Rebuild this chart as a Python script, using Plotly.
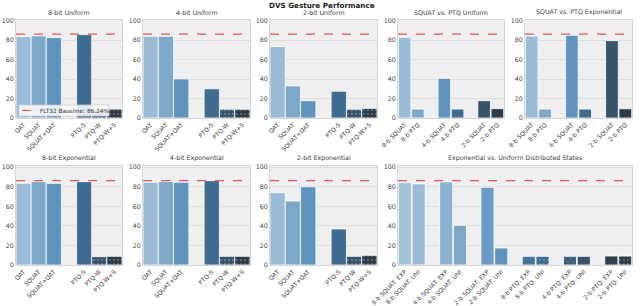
import plotly.graph_objects as go

W, H = 640, 306
BASELINE = 86.24

methods = ["QAT", "SQUAT", "SQUAT+QAT", "", "PTQ-S", "PTQ-W", "PTQ-W+S"]
uni8 = [83.7, 84.4, 82.6, None, 85.7, 8.7, 9.2]
uni4 = [84.0, 84.0, 40.2, None, 30.0, 9.0, 9.0]
uni2 = [73.5, 33.0, 17.7, None, 27.5, 9.0, 9.9]
exp8 = [83.6, 85.3, 83.6, None, 85.3, 8.5, 8.9]
exp4 = [84.6, 85.3, 84.6, None, 86.3, 8.9, 8.9]
exp2 = [74.0, 65.5, 80.0, None, 36.9, 8.9, 9.9]

sq_labels = ["8-b SQUAT", "8-b PTQ", "", "4-b SQUAT", "4-b PTQ", "", "2-b SQUAT", "2-b PTQ"]
sq_uni = [82.9, 9.2, None, 40.8, 9.2, None, 17.8, 9.6]
sq_exp = [84.2, 9.2, None, 85.0, 9.2, None, 79.5, 9.5]

ev_labels = ["8-b SQUAT: EXP", "8-b SQUAT: UNI", "",
             "4-b SQUAT: EXP", "4-b SQUAT: UNI", "",
             "2-b SQUAT: EXP", "2-b SQUAT: UNI", "",
             "8-b PTQ: EXP", "8-b PTQ: UNI", "",
             "4-b PTQ: EXP", "4-b PTQ: UNI", "",
             "2-b PTQ: EXP", "2-b PTQ: UNI"]
ev_vals = [84.3, 83.0, None, 85.0, 40.6, None, 79.5, 17.4, None,
           8.9, 8.9, None, 8.9, 8.9, None, 9.2, 9.2]

yticks = [0, 20, 40, 60, 80, 100]

pal6 = ["#9bbcd7", "#7ea8ca", "#5f94bf", "#3f6d91", "#37546b", "#2e3c48"]
pal12 = ["#a3c3da", "#9bbdd7", "#8bb3d1", "#7ea8ca", "#6a9cc5", "#5e93be",
         "#44759b", "#3f6d91", "#3b5c76", "#37546b", "#303f4c", "#2e3c48"]

method_pat = ["", "", "", "", ".", "."]
sq_pat = ["", "", "", "", "", ""]
ev_pat = ["", "", "", "", "", "", "", ".", "x", "", "", "."]


def px(x):
    return x / W


def py(y):
    return 1 - y / H


top = (20, 118)
bot = (166, 265)
cols = [(16, 122), (143, 250), (270, 377), (398, 504), (525, 632)]
panels = [
    ("8-bit Uniform", methods, uni8, pal6, method_pat, cols[0], top, 100.7),
    ("4-bit Uniform", methods, uni4, pal6, method_pat, cols[1], top, 100.7),
    ("2-bit Uniform", methods, uni2, pal6, method_pat, cols[2], top, 100.7),
    ("SQUAT vs. PTQ Uniform", sq_labels, sq_uni, pal6, sq_pat, cols[3], top, 100.7),
    ("SQUAT vs. PTQ Exponential", sq_labels, sq_exp, pal6, sq_pat, cols[4], top, 100.7),
    ("8-bit Exponential", methods, exp8, pal6, method_pat, cols[0], bot, 101.3),
    ("4-bit Exponential", methods, exp4, pal6, method_pat, cols[1], bot, 101.3),
    ("2-bit Exponential", methods, exp2, pal6, method_pat, cols[2], bot, 101.3),
    ("Exponential vs. Uniform Distributed States", ev_labels, ev_vals, pal12, ev_pat,
     (cols[3][0], cols[4][1]), bot, 101.3),
]

fig = go.Figure()
layout = {}
annotations = []
shapes = []
FONT = "DejaVu Sans"
RED = "rgba(225,60,60,0.85)"

for i, (title, labels, vals, colors, pats, (x0, x1), (y0, y1), ymax) in enumerate(panels, start=1):
    xs = [k for k, v in enumerate(vals) if v is not None]
    ys = [v for v in vals if v is not None]
    n = len(xs)
    bw = 1.0 if len(labels) <= 7 else 0.95
    suffix = "" if i == 1 else str(i)
    fig.add_trace(go.Bar(
        x=xs, y=ys, width=bw,
        marker=dict(color=colors[:n], line=dict(color="white", width=0.8),
                    pattern=dict(shape=pats[:n], fillmode="overlay", size=4,
                                 solidity=0.12, fgcolor="#6f889c")),
        xaxis=f"x{suffix}", yaxis=f"y{suffix}", showlegend=False,
        hoverinfo="skip",
    ))
    layout[f"xaxis{suffix}"] = dict(
        domain=[px(x0), px(x1)], anchor=f"y{suffix}", automargin=False,
        range=[-0.5, len(labels) - 0.5],
        tickvals=list(range(len(labels))), ticktext=labels,
        tickangle=-45, tickfont=dict(size=6.0, color="#444", family=FONT),
        showgrid=False, zeroline=False, showline=True, mirror=True,
        linecolor="#d6d6d6", linewidth=1, ticks="",
    )
    layout[f"yaxis{suffix}"] = dict(
        domain=[py(y1), py(y0)], anchor=f"x{suffix}", automargin=False,
        range=[0, ymax], tickvals=yticks,
        tickfont=dict(size=6.3, color="#444", family=FONT),
        showgrid=True, gridcolor="#dadada", gridwidth=0.8, zeroline=False,
        showline=True, mirror=True, linecolor="#d6d6d6", linewidth=1, ticks="",
    )
    annotations.append(dict(
        text=title, x=px((x0 + x1) / 2), y=py(y0 - 2),
        xref="paper", yref="paper", xanchor="center", yanchor="bottom",
        showarrow=False, font=dict(size=6.3, color="#3a3a3a", family=FONT),
    ))
    shapes.append(dict(
        type="line", xref=f"x{suffix} domain", yref=f"y{suffix}", x0=0, x1=1,
        y0=BASELINE, y1=BASELINE,
        line=dict(color=RED, width=1.2, dash="dash"),
    ))

# legend box (manual, compact like the reference)
lx0, lx1, ly0, ly1 = 19, 109, 105, 116
shapes.append(dict(type="rect", xref="paper", yref="paper",
                   x0=px(lx0), x1=px(lx1), y0=py(ly1), y1=py(ly0),
                   fillcolor="rgba(255,255,255,0.85)",
                   line=dict(color="#cccccc", width=0.8), layer="above"))
shapes.append(dict(type="line", xref="paper", yref="paper",
                   x0=px(lx0 + 3), x1=px(lx0 + 16),
                   y0=py((ly0 + ly1) / 2), y1=py((ly0 + ly1) / 2),
                   line=dict(color=RED, width=1.2, dash="dash"), layer="above"))
annotations.append(dict(
    text=f"FLT32 Baseline: {BASELINE}%", x=px(lx0 + 19), y=py((ly0 + ly1) / 2),
    xref="paper", yref="paper", xanchor="left", yanchor="middle",
    showarrow=False, font=dict(size=5.8, color="#333", family=FONT),
))

annotations.append(dict(
    text="<b>DVS Gesture Performance</b>", x=px(322), y=py(5),
    xref="paper", yref="paper", xanchor="center", yanchor="middle",
    showarrow=False, font=dict(size=7.2, color="#222", family=FONT),
))

fig.update_layout(
    width=W, height=H, margin=dict(l=0, r=0, t=0, b=0),
    paper_bgcolor="white", plot_bgcolor="#efefef",
    bargap=0, showlegend=False, hovermode=False,
    annotations=annotations, shapes=shapes,
    **layout,
)

fig.write_html(
    "out.html",
    config={"displayModeBar": False, "staticPlot": True},
    post_script="document.body.style.margin='0px';document.body.style.overflow='hidden';",
)
